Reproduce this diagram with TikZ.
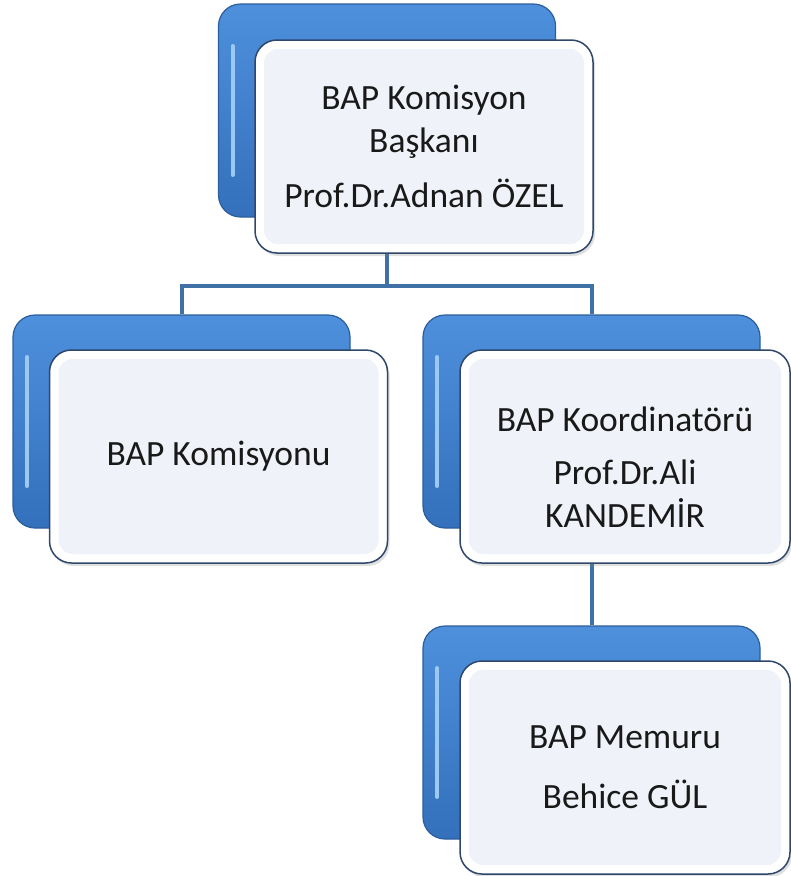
\documentclass[tikz,border=0pt]{standalone}
\usepackage{fontspec}
\setmainfont{Carlito}
\usetikzlibrary{positioning, shadows, backgrounds}
\definecolor{baplight}{HTML}{4E90DC}
\definecolor{bapdark}{HTML}{3470BC}
\definecolor{bapedge}{HTML}{2B5E9C}
\definecolor{bapglow}{HTML}{9CC8F2}
\definecolor{bapframe}{HTML}{2E476B}
\definecolor{bapinner}{HTML}{EFF2F8}
\definecolor{baplink}{HTML}{3F70A6}
\tikzset{
	backbox/.style={
		rectangle,
		rounded corners=22pt,
		draw=bapedge, line width=1.2pt,
		top color=baplight, bottom color=bapdark,
		minimum width=337pt, minimum height=213pt,
		path picture={
			\draw[bapglow, line width=4pt, line cap=round]
				([shift={(14pt,-42pt)}]path picture bounding box.north west) --
				([shift={(14pt,42pt)}]path picture bounding box.south west);
			\draw[bapglow!60!baplight, line width=3pt, line cap=round]
				([shift={(-14pt,-42pt)}]path picture bounding box.north east) --
				([shift={(-14pt,42pt)}]path picture bounding box.south east);
		},
	},
	frontbox/.style={
		rectangle,
		rounded corners=22pt,
		draw=bapframe, line width=1.5pt,
		fill=white,
		drop shadow={opacity=0.25, shadow xshift=2pt, shadow yshift=-3pt},
		minimum width=338pt, minimum height=213pt,
		align=center, text=black!90,
		font=\fontsize{35.5}{43}\selectfont,
		path picture={
			\fill[bapinner, rounded corners=14pt]
				([shift={(9pt,-9pt)}]path picture bounding box.north west) rectangle
				([shift={(-9pt,9pt)}]path picture bounding box.south east);
		},
	},
	link/.style={draw=baplink, line width=4pt},
}

\begin{document}
\begin{tikzpicture}[x=1pt, y=-1pt]
	\useasboundingbox (0,0) rectangle (791,876);
	% back plates
	\node[backbox] (A) at (387,110.5) {};
	\node[frontbox, xshift=37pt, yshift=-36pt] (Af) at (A) {BAP Komisyon\\Başkanı\\[12pt]Prof.Dr.Adnan ÖZEL};
	\node[backbox] (B) at (181.5,421.5) {};
	\node[frontbox, xshift=37pt, yshift=-35pt] (Bf) at (B) {BAP Komisyonu};
	\node[backbox] (C) at (591.5,421.5) {};
	\node[frontbox, xshift=33.5pt, yshift=-35pt, minimum width=330pt] (Cf) at (C) {\rule{0pt}{45pt}BAP Koordinatörü\\[10pt]Prof.Dr.Ali\\KANDEMİR};
	\node[backbox] (D) at (591.5,732.5) {};
	\node[frontbox, xshift=33.5pt, yshift=-35pt, minimum width=330pt] (Df) at (D) {BAP Memuru\\[17pt]Behice GÜL};

	\begin{scope}[on background layer]
		\draw[link] (A.south) -- ++(0,68) -| (B.north);
		\draw[link] (A.south) -- ++(0,68) -| (C.north);
		\draw[link] (C.south) -- (D.north);
	\end{scope}
\end{tikzpicture}
\end{document}
